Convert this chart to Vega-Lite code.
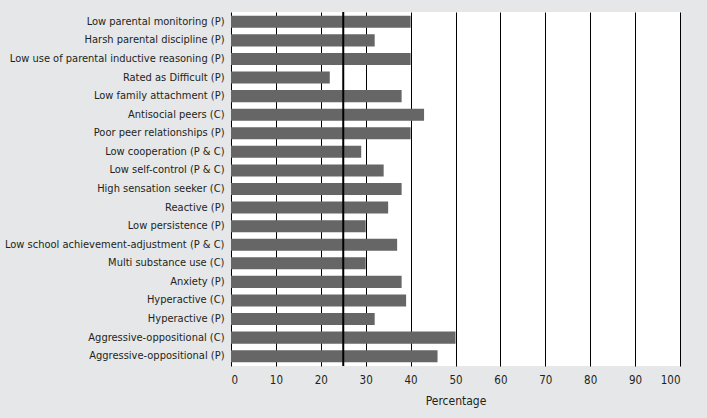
{
  "$schema": "https://vega.github.io/schema/vega-lite/v6.json",
  "autosize": {"type": "none"},
  "width": 449,
  "height": 354,
  "padding": {"left": 231, "top": 12, "right": 27, "bottom": 52},
  "background": "#e6e7e8",
  "config": {
    "view": {"fill": "white", "stroke": null},
    "font": "DejaVu Sans Condensed"
  },
  "data": {
    "values": [
      {"factor": "Low parental monitoring (P)", "pct": 40},
      {"factor": "Harsh parental discipline (P)", "pct": 32},
      {"factor": "Low use of parental inductive reasoning (P)", "pct": 40},
      {"factor": "Rated as  Difficult  (P)", "pct": 22},
      {"factor": "Low family attachment (P)", "pct": 38},
      {"factor": "Antisocial peers (C)", "pct": 43},
      {"factor": "Poor peer relationships (P)", "pct": 40},
      {"factor": "Low cooperation (P & C)", "pct": 29},
      {"factor": "Low self-control (P & C)", "pct": 34},
      {"factor": "High sensation seeker (C)", "pct": 38},
      {"factor": "Reactive (P)", "pct": 35},
      {"factor": "Low persistence (P)", "pct": 30},
      {"factor": "Low school achievement-adjustment (P & C)", "pct": 37},
      {"factor": "Multi substance use (C)", "pct": 30},
      {"factor": "Anxiety (P)", "pct": 38},
      {"factor": "Hyperactive (C)", "pct": 39},
      {"factor": "Hyperactive (P)", "pct": 32},
      {"factor": "Aggressive-oppositional (C)", "pct": 50},
      {"factor": "Aggressive-oppositional (P)", "pct": 46}
    ]
  },
  "layer": [
    {
      "mark": {"type": "bar", "color": "#666666"},
      "encoding": {
        "y": {
          "field": "factor",
          "type": "nominal",
          "sort": null,
          "title": null,
          "scale": {"paddingInner": 0.35, "paddingOuter": 0.2},
          "axis": {
            "domain": false,
            "ticks": false,
            "labelPadding": 7,
            "labelFontSize": 11,
            "labelColor": "#231f20",
            "labelLimit": 300
          }
        },
        "x": {
          "field": "pct",
          "type": "quantitative",
          "title": "Percentage",
          "scale": {"domain": [0, 100], "nice": false},
          "axis": {
            "values": [0, 10, 20, 30, 40, 50, 60, 70, 80, 90, 100],
            "domain": false,
            "ticks": false,
            "grid": true,
            "gridColor": "black",
            "gridOpacity": 1,
            "gridWidth": 1,
            "labelPadding": 8,
            "labelFontSize": 11.5,
            "labelColor": "#231f20",
            "titleFontSize": 12,
            "titleFontWeight": "normal",
            "titleColor": "#231f20",
            "titlePadding": 10
          }
        }
      }
    },
    {
      "data": {"values": [{"ref": 25}]},
      "mark": {"type": "rule", "color": "black", "strokeWidth": 2},
      "encoding": {"x": {"field": "ref", "type": "quantitative"}}
    }
  ]
}
